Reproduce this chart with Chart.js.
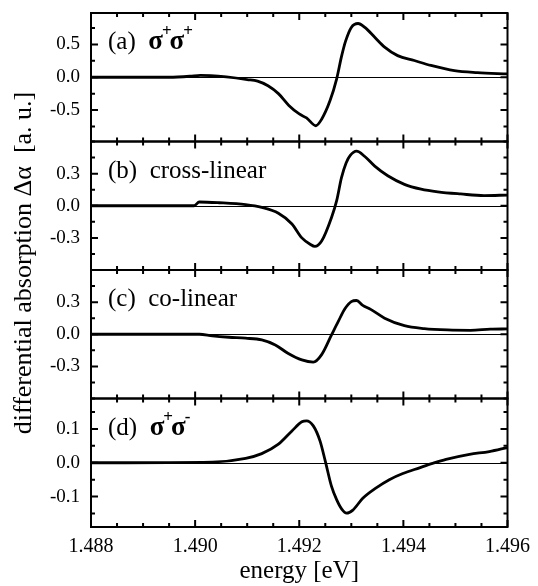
<!DOCTYPE html>
<html>
<head>
<meta charset="utf-8">
<script src="https://cdn.jsdelivr.net/npm/chart.js@4.4.0/dist/chart.umd.min.js"></script>
<style>
  html, body { margin: 0; padding: 0; background: #fff; }
  #wrap { width: 538px; height: 586px; }
</style>
</head>
<body>
<div id="wrap"><canvas id="myChart" width="538" height="586"></canvas></div>
<script>
// energies [eV] and differential absorption
const energyA = [1.4880, 1.4895, 1.4899, 1.4901, 1.4903, 1.4906, 1.4910, 1.4912, 1.4914, 1.4916, 1.4918, 1.4920, 1.49214, 1.49232, 1.49243, 1.49259, 1.49272, 1.49281, 1.49289, 1.49300, 1.49313, 1.49326, 1.49345, 1.49364, 1.49389, 1.49421, 1.49453, 1.49498, 1.49542, 1.4960];
const valueA = [0, 0, 0.015, 0.03, 0.025, 0.005, -0.035, -0.06, -0.13, -0.25, -0.43, -0.56, -0.62, -0.74, -0.64, -0.36, -0.02, 0.31, 0.55, 0.76, 0.82, 0.76, 0.61, 0.46, 0.33, 0.255, 0.18, 0.10, 0.07, 0.05];

const energyB = [1.4880, 1.48998, 1.49008, 1.49046, 1.49097, 1.49128, 1.49160, 1.49186, 1.49205, 1.49221, 1.49230, 1.49243, 1.49262, 1.49272, 1.49281, 1.49290, 1.49298, 1.49310, 1.49326, 1.49345, 1.49370, 1.49402, 1.49434, 1.49466, 1.49510, 1.49555, 1.4960];
const valueB = [0, 0, 0.035, 0.028, 0.01, -0.016, -0.07, -0.17, -0.30, -0.36, -0.38, -0.33, -0.11, 0.05, 0.26, 0.40, 0.47, 0.51, 0.46, 0.37, 0.28, 0.20, 0.155, 0.13, 0.11, 0.095, 0.10];

const energyC = [1.4880, 1.49008, 1.49033, 1.49065, 1.49097, 1.49128, 1.49154, 1.49179, 1.49205, 1.49227, 1.49243, 1.49262, 1.49275, 1.49288, 1.49300, 1.49310, 1.49322, 1.49338, 1.49364, 1.49402, 1.49440, 1.49485, 1.49529, 1.49567, 1.4960];
const valueC = [0, 0, -0.015, -0.028, -0.037, -0.053, -0.10, -0.18, -0.24, -0.26, -0.19, -0.006, 0.12, 0.24, 0.305, 0.315, 0.27, 0.23, 0.15, 0.08, 0.053, 0.04, 0.037, 0.047, 0.05];

const energyD = [1.4880, 1.49033, 1.49097, 1.49128, 1.49160, 1.49186, 1.49205, 1.49214, 1.49227, 1.49240, 1.49250, 1.49262, 1.49272, 1.49282, 1.49291, 1.49303, 1.49322, 1.49347, 1.49373, 1.49399, 1.49431, 1.49456, 1.49482, 1.49527, 1.49565, 1.4960];
const valueD = [0, 0.002, 0.013, 0.027, 0.055, 0.094, 0.121, 0.124, 0.109, 0.064, 0.005, -0.07, -0.11, -0.138, -0.149, -0.14, -0.105, -0.075, -0.05, -0.032, -0.015, -0.002, 0.01, 0.025, 0.033, 0.045];

const xTicks = [1.488, 1.490, 1.492, 1.494, 1.496];
const yTicksA = [-0.5, 0, 0.5];
const yTicksB = [-0.3, 0, 0.3];
const yTicksC = [-0.3, 0, 0.3];
const yTicksD = [-0.1, 0, 0.1];

const panelTags = ["(a)", "(b)", "(c)", "(d)"];
const panelNames = ["σ+σ+", "cross-linear", "co-linear", "σ+σ-"];
const xTitle = "energy [eV]";
const yTitle = "differential absorption Δα  [a. u.]";

const serif = '"Liberation Serif", "Times New Roman", serif';

// panel settings, top to bottom
const panels = [
  { id: "yA", energy: energyA, value: valueA, ticks: yTicksA, lim: 0.98, minor: 0.25 },
  { id: "yB", energy: energyB, value: valueB, ticks: yTicksB, lim: 0.6, minor: 0.15 },
  { id: "yC", energy: energyC, value: valueC, ticks: yTicksC, lim: 0.6, minor: 0.15 },
  { id: "yD", energy: energyD, value: valueD, ticks: yTicksD, lim: 0.19, minor: 0.05 },
];

const makeYScale = (p) => ({
  type: "linear",
  position: "left",
  stack: "panels",
  stackWeight: 1,
  min: -p.lim,
  max: p.lim,
  grid: { display: false, drawTicks: false },
  border: { display: false },
  ticks: {
    color: "#000",
    padding: 11,
    font: { family: serif, size: 19 },
    callback: (v) => Number(v).toFixed(1),
  },
  afterBuildTicks: (scale) => {
    scale.ticks = p.ticks.map((v) => ({ value: v }));
  },
  afterFit: (scale) => {
    scale.width = 91;
    scale.paddingTop = 0;
    scale.paddingBottom = 0;
  },
});

const scales = {
  x: {
    type: "linear",
    position: "bottom",
    min: 1.488,
    max: 1.496,
    grid: { display: false, drawTicks: false },
    border: { display: false },
    ticks: {
      color: "#000",
      padding: 8,
      maxRotation: 0,
      font: { family: serif, size: 20 },
      callback: (v) => Number(v).toFixed(3),
    },
    afterBuildTicks: (scale) => {
      scale.ticks = xTicks.map((v) => ({ value: v }));
    },
    afterFit: (scale) => {
      scale.height = 59;
    },
    title: {
      display: true,
      text: xTitle,
      color: "#000",
      font: { family: serif, size: 25 },
      padding: { top: 0, bottom: 0 },
    },
  },
};
// left stacked axes are laid out in reverse order, so add bottom panel first
[...panels].reverse().forEach((p) => {
  scales[p.id] = makeYScale(p);
});

// draw label like "σ+σ-" with superscript signs after sigma
const drawPanelName = (ctx, text, x, y) => {
  let cx = x;
  for (let i = 0; i < text.length; i++) {
    const ch = text[i];
    if (ch === "σ") {
      ctx.font = "bold 27px " + serif;
      ctx.fillText(ch, cx, y);
      cx += ctx.measureText(ch).width;
    } else if ((ch === "+" || ch === "-") && text[i - 1] === "σ") {
      ctx.font = "bold 17px " + serif;
      ctx.fillText(ch, cx - 1, y - 13);
      cx += ctx.measureText(ch).width - 3;
    } else {
      ctx.font = "25px " + serif;
      ctx.fillText(ch, cx, y);
      cx += ctx.measureText(ch).width;
    }
  }
};

const framePlugin = {
  id: "frames",
  beforeDatasetsDraw(chart) {
    const ctx = chart.ctx;
    const area = chart.chartArea;
    ctx.save();
    ctx.strokeStyle = "#000";
    ctx.lineWidth = 1;
    panels.forEach((p) => {
      const y0 = Math.round(chart.scales[p.id].getPixelForValue(0)) + 0.5;
      ctx.beginPath();
      ctx.moveTo(area.left, y0);
      ctx.lineTo(area.right, y0);
      ctx.stroke();
    });
    ctx.restore();
  },
  afterDatasetsDraw(chart) {
    const ctx = chart.ctx;
    const area = chart.chartArea;
    const xs = chart.scales.x;
    ctx.save();
    ctx.strokeStyle = "#000";
    ctx.fillStyle = "#000";
    panels.forEach((p, idx) => {
      const s = chart.scales[p.id];
      const top = s.top;
      const bottom = s.bottom;
      // frame
      ctx.lineWidth = 2;
      ctx.strokeRect(area.left, top, area.right - area.left, bottom - top);
      // x ticks on top and bottom edge, every 0.0005, long every 0.002
      for (let i = 0; i <= 16; i++) {
        const px = xs.getPixelForValue(1.488 + i * 0.0005);
        const len = i % 4 === 0 ? 7 : 4;
        ctx.beginPath();
        ctx.moveTo(px, top);
        ctx.lineTo(px, top + len);
        ctx.moveTo(px, bottom);
        ctx.lineTo(px, bottom - len);
        ctx.stroke();
      }
      // y ticks left and right
      const n = Math.floor(p.lim / p.minor + 1e-6);
      for (let k = -n; k <= n; k++) {
        const v = k * p.minor;
        const py = s.getPixelForValue(v);
        const major = p.ticks.some((t) => Math.abs(t - v) < 1e-6);
        const len = major ? 7 : 4;
        ctx.beginPath();
        ctx.moveTo(area.left, py);
        ctx.lineTo(area.left + len, py);
        ctx.moveTo(area.right, py);
        ctx.lineTo(area.right - len, py);
        ctx.stroke();
      }
      // panel label
      ctx.textBaseline = "alphabetic";
      ctx.textAlign = "left";
      ctx.font = "25px " + serif;
      const tag = panelTags[idx] + "  ";
      ctx.fillText(tag, area.left + 17, top + 36);
      const w = ctx.measureText(tag).width;
      drawPanelName(ctx, panelNames[idx], area.left + 17 + w, top + 36);
    });
    // y title
    ctx.translate(31, 263);
    ctx.rotate(-Math.PI / 2);
    ctx.textAlign = "center";
    ctx.textBaseline = "alphabetic";
    ctx.font = "26px " + serif;
    ctx.fillText(yTitle, 0, 0);
    ctx.restore();
  },
};

const datasets = panels.map((p) => ({
  data: p.energy.map((e, i) => ({ x: e, y: p.value[i] })),
  xAxisID: "x",
  yAxisID: p.id,
  borderColor: "#000",
  borderWidth: 2.8,
  pointRadius: 0,
  cubicInterpolationMode: "monotone",
  fill: false,
}));

const ctx = document.getElementById("myChart").getContext("2d");
const myChart = new Chart(ctx, {
  type: "line",
  data: { datasets },
  options: {
    responsive: false,
    animation: false,
    layout: { padding: { top: 13, right: 28, left: 0, bottom: 0 } },
    plugins: { legend: { display: false }, tooltip: { enabled: false } },
    scales,
  },
  plugins: [framePlugin],
});
</script>
</body>
</html>
